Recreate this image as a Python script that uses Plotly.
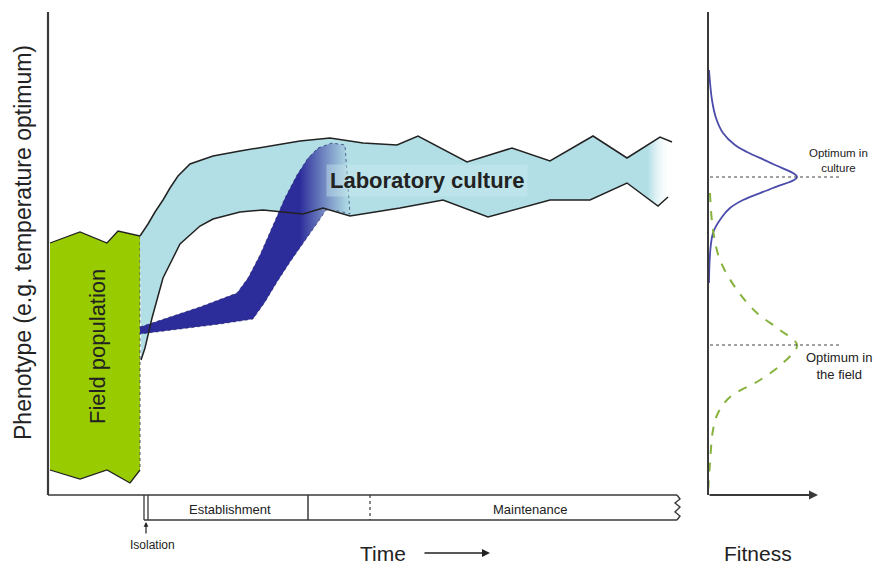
import plotly.graph_objects as go

# ---- Data (time units = horizontal, phenotype units = vertical) ----
FIELD_POP_T = [2, 32, 59, 70, 92, 92, 82, 59, 32, 2]
FIELD_POP_P = [252, 263, 252, 264, 259, 25, 12, 25, 16, 25]

CULTURE_UPPER_T = [92, 100, 107, 115, 122, 130, 142, 165, 192, 222, 252, 282, 315, 349, 370, 419, 464, 502, 545, 579, 612, 624]
CULTURE_UPPER_P = [259, 271, 283, 295, 307, 319, 331, 339, 344, 349, 354, 357, 352, 350, 359, 333, 347, 334, 359, 337, 358, 353]
CULTURE_LOWER_T = [93, 97, 104, 115, 132, 152, 165, 192, 215, 255, 275, 289, 302, 327, 352, 395, 440, 502, 542, 579, 610, 620]
CULTURE_LOWER_P = [135, 147, 177, 217, 251, 269, 276, 283, 285, 281, 287, 283, 279, 283, 287, 295, 278, 295, 295, 312, 289, 298]

ISOLATE_UPPER_T = [92, 122, 152, 189, 200, 212, 225, 237, 249, 260, 270, 284, 297]
ISOLATE_UPPER_P = [168, 178, 188, 202, 217, 240, 270, 297, 320, 337, 347, 352, 350]
ISOLATE_LOWER_T = [302, 290, 278, 270, 257, 242, 229, 217, 205, 172, 132, 92]
ISOLATE_LOWER_P = [281, 284, 285, 273, 255, 233, 213, 193, 176, 171, 166, 161]

CULT_FIT_P = [425, 395, 377, 362, 350, 343, 331, 318, 307, 295, 287, 278, 262, 212]
CULT_FIT_F = [1, 4, 8, 15, 27, 39, 65, 89, 65, 35, 22, 14, 5, 1]
FIELD_FIT_P = [302, 265, 235, 205, 182, 165, 150, 132, 115, 98, 82, 65, 32, 2]
FIELD_FIT_F = [2, 5, 12, 29, 49, 72, 89, 75, 52, 22, 10, 5, 2, 0]
CULT_OPT_P = 318
FIELD_OPT_P = 150

PHENO_MAX = 483
TIME_END = 629
BAR_BOTTOM = -25
ISOLATION_T = 96
ESTABLISH_END_T = 260
MAINT_START_T = 322
FIT_MAX = 110

GREEN = "#99cc00"
LIGHT = "#b2dfe6"
DARK = "#2c2c9a"
INK = "#222222"
FONT = "Liberation Sans, Arial, sans-serif"

fig = go.Figure()

# Field population polygon
fig.add_trace(go.Scatter(x=FIELD_POP_T, y=FIELD_POP_P, fill="toself", fillcolor=GREEN,
                         mode="lines", line=dict(width=0), hoverinfo="skip"))
fig.add_trace(go.Scatter(x=FIELD_POP_T[:5], y=FIELD_POP_P[:5], mode="lines",
                         line=dict(color=INK, width=1.3), hoverinfo="skip"))
fig.add_trace(go.Scatter(x=FIELD_POP_T[5:], y=FIELD_POP_P[5:], mode="lines",
                         line=dict(color=INK, width=1.3), hoverinfo="skip"))
fig.add_trace(go.Scatter(x=[FIELD_POP_T[4], FIELD_POP_T[5]], y=[FIELD_POP_P[4], FIELD_POP_P[5]],
                         mode="lines", line=dict(color="#556", width=1, dash="dot"), hoverinfo="skip"))

# Laboratory culture band
band_t = CULTURE_UPPER_T + CULTURE_LOWER_T[::-1]
band_p = CULTURE_UPPER_P + CULTURE_LOWER_P[::-1]
fig.add_trace(go.Scatter(x=band_t, y=band_p, fill="toself", mode="lines", line=dict(width=0),
                         fillgradient=dict(type="horizontal",
                                           colorscale=[[0, LIGHT], [0.955, LIGHT], [1, "rgba(255,255,255,0)"]],
                                           start=CULTURE_UPPER_T[0], stop=CULTURE_UPPER_T[-1]),
                         hoverinfo="skip"))

# Isolate (dark) band
iso_t = ISOLATE_UPPER_T + ISOLATE_LOWER_T
iso_p = ISOLATE_UPPER_P + ISOLATE_LOWER_P
fig.add_trace(go.Scatter(x=iso_t, y=iso_p, fill="toself", mode="lines",
                         line=dict(width=1, color="rgba(20,20,90,0.6)", dash="dot"),
                         fillgradient=dict(type="horizontal",
                                           colorscale=[[0, DARK], [0.76, DARK], [1, "rgba(178,223,230,0.9)"]],
                                           start=ISOLATE_UPPER_T[0], stop=ISOLATE_LOWER_T[0]),
                         hoverinfo="skip"))

# Culture band edges
fig.add_trace(go.Scatter(x=CULTURE_UPPER_T, y=CULTURE_UPPER_P, mode="lines",
                         line=dict(color=INK, width=1.5), hoverinfo="skip"))
fig.add_trace(go.Scatter(x=CULTURE_LOWER_T, y=CULTURE_LOWER_P, mode="lines",
                         line=dict(color=INK, width=1.5), hoverinfo="skip"))

# Fitness curves (second x axis)
fig.add_trace(go.Scatter(x=CULT_FIT_F, y=CULT_FIT_P, xaxis="x2", mode="lines",
                         line=dict(color="#4b4bab", width=1.8, shape="spline", smoothing=1.0),
                         hoverinfo="skip"))
fig.add_trace(go.Scatter(x=FIELD_FIT_F, y=FIELD_FIT_P, xaxis="x2", mode="lines",
                         line=dict(color="#86b23e", width=2, dash="dash", shape="spline", smoothing=1.0),
                         hoverinfo="skip"))
fig.add_trace(go.Scatter(x=[2, 132], y=[CULT_OPT_P, CULT_OPT_P], xaxis="x2", mode="lines",
                         line=dict(color="#444", width=1, dash="dot"), hoverinfo="skip"))
fig.add_trace(go.Scatter(x=[2, 132], y=[FIELD_OPT_P, FIELD_OPT_P], xaxis="x2", mode="lines",
                         line=dict(color="#444", width=1, dash="dot"), hoverinfo="skip"))

shapes = []
axc = "#3a3a3a"
# main axes
shapes.append(dict(type="line", xref="x", yref="y", x0=0, y0=0, x1=0, y1=PHENO_MAX,
                   line=dict(color=axc, width=2.2)))
shapes.append(dict(type="line", xref="x", yref="y", x0=0, y0=0, x1=TIME_END, y1=0,
                   line=dict(color=axc, width=1.6)))
# timeline bar
shapes.append(dict(type="line", xref="x", yref="y", x0=ISOLATION_T, y0=BAR_BOTTOM, x1=TIME_END, y1=BAR_BOTTOM,
                   line=dict(color=axc, width=1.6)))
shapes.append(dict(type="line", xref="x", yref="y", x0=ISOLATION_T, y0=0, x1=ISOLATION_T, y1=BAR_BOTTOM,
                   line=dict(color=axc, width=1.3)))
shapes.append(dict(type="line", xref="x", yref="y", x0=ISOLATION_T + 4, y0=0, x1=ISOLATION_T + 4, y1=BAR_BOTTOM,
                   line=dict(color=axc, width=1.3)))
shapes.append(dict(type="line", xref="x", yref="y", x0=ESTABLISH_END_T, y0=0, x1=ESTABLISH_END_T, y1=BAR_BOTTOM,
                   line=dict(color=axc, width=1.5)))
shapes.append(dict(type="line", xref="x", yref="y", x0=MAINT_START_T, y0=0, x1=MAINT_START_T, y1=BAR_BOTTOM,
                   line=dict(color=axc, width=1.2, dash="dot")))
zig_t = [TIME_END, TIME_END + 3, TIME_END - 2, TIME_END + 3, TIME_END - 2, TIME_END + 3, TIME_END]
zig_p = [0, -4, -8, -12, -17, -21, BAR_BOTTOM]
path = "M " + " L ".join(f"{a},{b}" for a, b in zip(zig_t, zig_p))
shapes.append(dict(type="path", xref="x", yref="y", path=path, line=dict(color=axc, width=1.4)))
# fitness axes
shapes.append(dict(type="line", xref="x2", yref="y", x0=0, y0=0, x1=0, y1=PHENO_MAX,
                   line=dict(color=axc, width=2)))

annotations = []
def txt(x, y, s, size, xref="x", bold=False, angle=0, **kw):
    annotations.append(dict(x=x, y=y, xref=xref, yref="y", text=(f"<b>{s}</b>" if bold else s),
                            showarrow=False, textangle=angle,
                            font=dict(family=FONT, size=size, color=INK), **kw))

txt(-25, 252, "Phenotype (e.g. temperature optimum)", 23, angle=-90)
txt(49, 148, "Field population", 22, angle=-90)
txt(379, 315, "Laboratory culture", 22, bold=True, bgcolor="rgba(205,236,241,0.4)", borderpad=3)
txt(182, -14, "Establishment", 13)
txt(482, -14, "Maintenance", 13)
txt(104, -50, "Isolation", 12)
txt(335, -58, "Time", 21)
txt(50, -58, "Fitness", 21, xref="x2")
txt(130, 335, "Optimum in<br>culture", 11.5, xref="x2")
txt(131, 129, "Optimum in<br>the field", 13, xref="x2")

# arrows
annotations.append(dict(x=ISOLATION_T + 2, y=-27, ax=ISOLATION_T + 2, ay=-40, xref="x", yref="y",
                        axref="x", ayref="y", text="", showarrow=True, arrowhead=2, arrowsize=0.8,
                        arrowwidth=1.2, arrowcolor=INK))
annotations.append(dict(x=442, y=-58, ax=375, ay=-58, xref="x", yref="y", axref="x", ayref="y",
                        text="", showarrow=True, arrowhead=2, arrowsize=1, arrowwidth=1.6, arrowcolor=INK))
annotations.append(dict(x=FIT_MAX, y=0, ax=0, ay=0, xref="x2", yref="y", axref="x2", ayref="y",
                        text="", showarrow=True, arrowhead=2, arrowsize=1, arrowwidth=1.8, arrowcolor=axc))

fig.update_layout(
    width=874, height=567, autosize=False,
    margin=dict(l=0, r=0, t=0, b=0, pad=0),
    paper_bgcolor="white", plot_bgcolor="white",
    showlegend=False,
    xaxis=dict(range=[-48, 826], visible=False, fixedrange=True),
    xaxis2=dict(range=[-708, 166], overlaying="x", visible=False, fixedrange=True),
    yaxis=dict(range=[-72, 495], visible=False, fixedrange=True),
    shapes=shapes, annotations=annotations,
)

fig.write_html("out.html", config={"displayModeBar": False},
               post_script="document.body.style.margin='0';document.body.style.overflow='hidden';")
